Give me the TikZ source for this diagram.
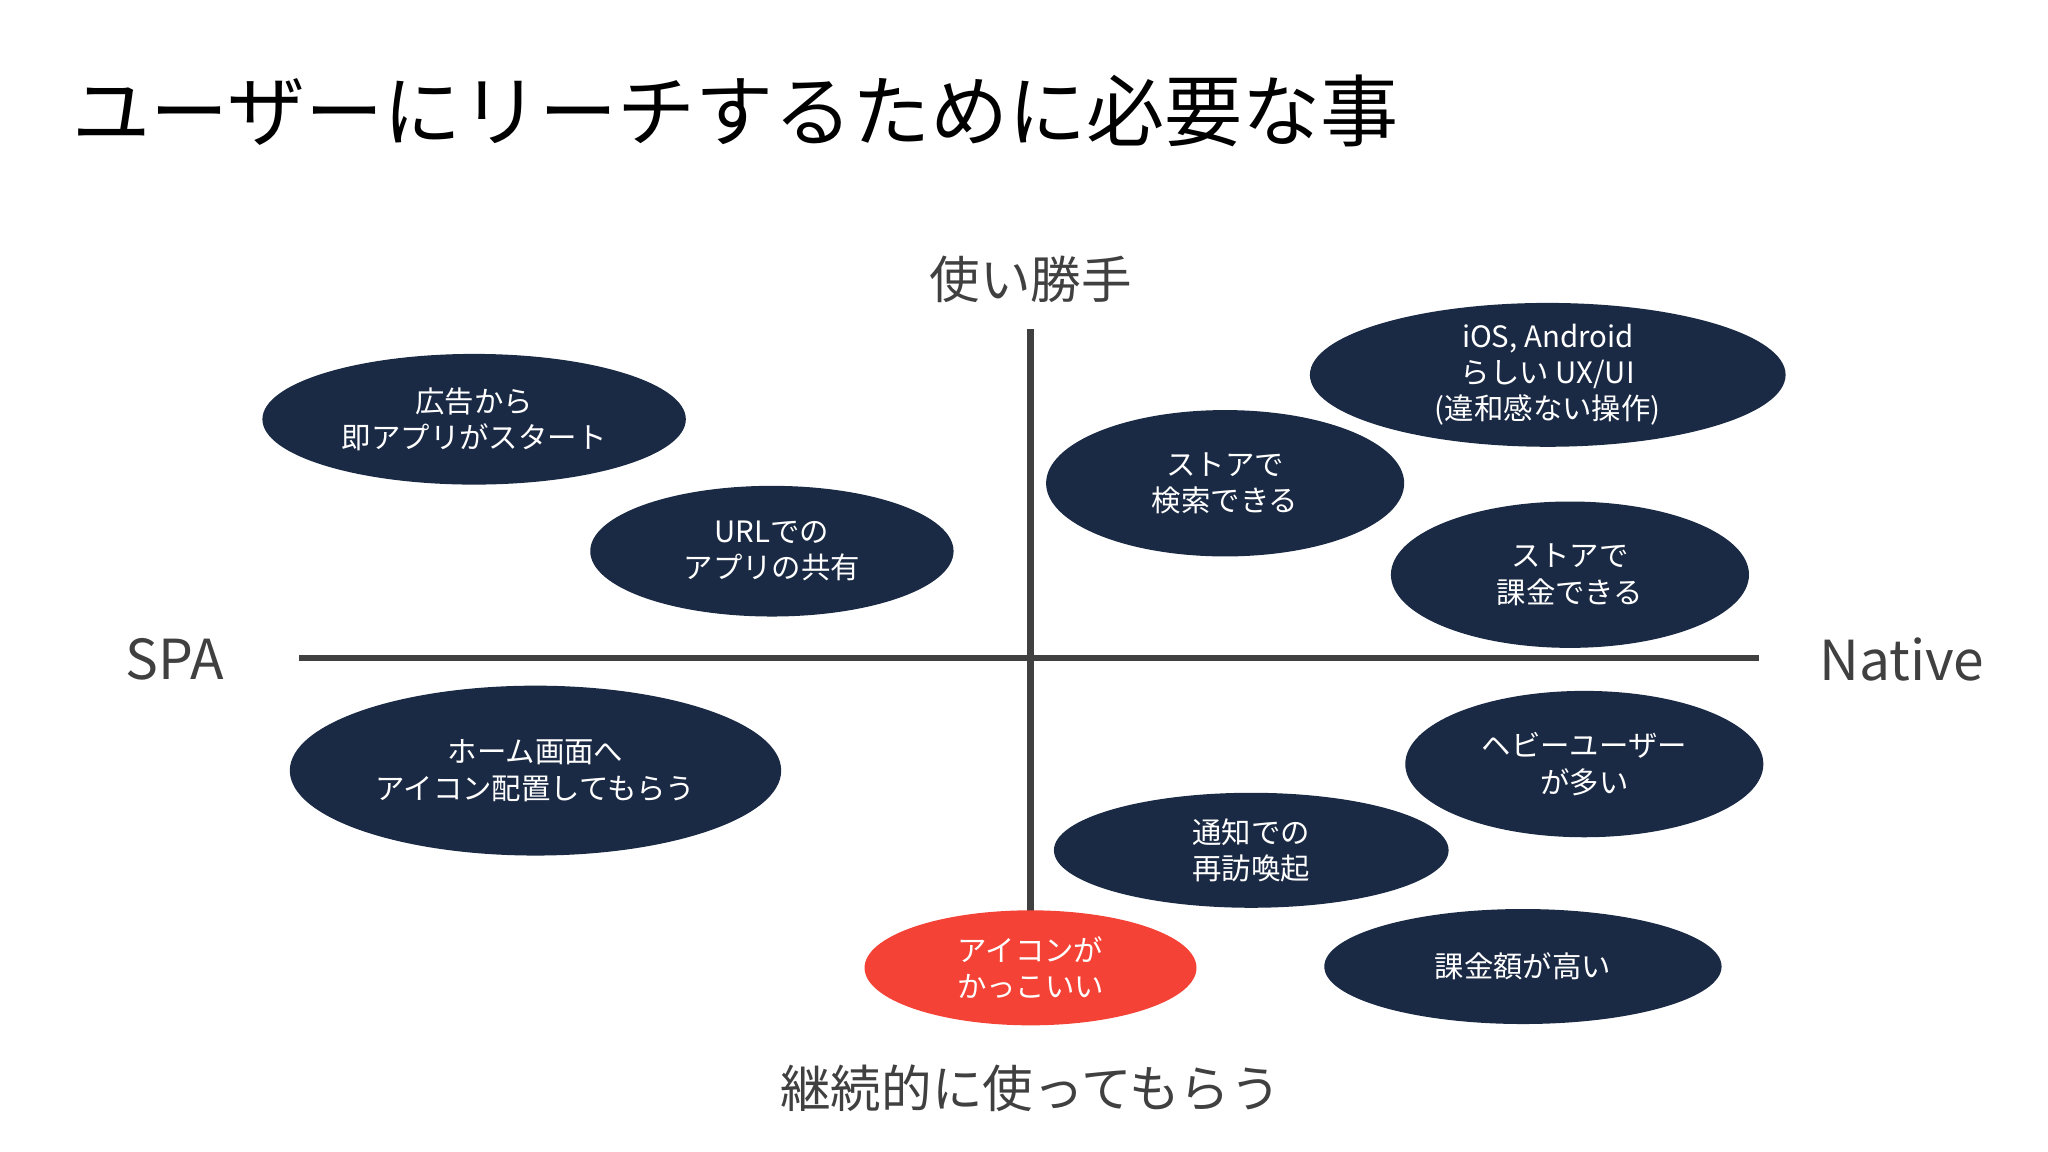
\documentclass[tikz,border=0pt]{standalone}
\usepackage{fontspec}
\setmainfont{Noto Sans CJK JP}
\usetikzlibrary{shapes.geometric}
\definecolor{navy}{HTML}{1B2A44}
\definecolor{redc}{HTML}{F44336}
\definecolor{axisgray}{HTML}{404040}
\begin{document}
\begin{tikzpicture}[x=0.01cm,y=-0.01cm,
  oval/.style={ellipse,fill=navy,text=white,align=center,inner sep=0pt,font=\fontsize{6.4}{7.9}\selectfont},
  axis/.style={draw=axisgray,line width=1.4pt},
  axlab/.style={text=axisgray,font=\fontsize{11}{14}\selectfont}]
\useasboundingbox (0,0) rectangle (1568,882);
\node[anchor=west,inner sep=0pt,font=\fontsize{17}{20}\selectfont] (title) at (55,85) {ユーザーにリーチするために必要な事};
\coordinate (l) at (229,504); \coordinate (r) at (1347,504);
\coordinate (t) at (789,252); \coordinate (b) at (789,700);
\draw[axis] (l) -- (r);
\draw[axis] (t) -- (b);
\node[axlab] (top) at (789,214) {使い勝手};
\node[axlab] (bot) at (789,833) {継続的に使ってもらう};
\node[axlab,font=\fontsize{12}{14}\selectfont] (spa) at (134,505) {SPA};
\node[axlab,font=\fontsize{12}{14}\selectfont] (nat) at (1456,505) {Native};
\node[oval,minimum width=3.24cm,minimum height=1.00cm] (e1) at (363,321) {広告から\\即アプリがスタート};
\node[oval,minimum width=2.78cm,minimum height=1.00cm] (e2) at (591,422) {URLでの\\アプリの共有};
\node[oval,minimum width=3.76cm,minimum height=1.30cm] (e3) at (410,590) {ホーム画面へ\\アイコン配置してもらう};
\node[oval,minimum width=3.64cm,minimum height=1.10cm] (e4) at (1185,287) {iOS, Android\\らしい UX/UI\\(違和感ない操作)};
\node[oval,minimum width=2.74cm,minimum height=1.12cm] (e5) at (938,370) {ストアで\\検索できる};
\node[oval,minimum width=2.74cm,minimum height=1.12cm] (e6) at (1202,440) {ストアで\\課金できる};
\node[oval,minimum width=2.74cm,minimum height=1.12cm] (e7) at (1213,585) {ヘビーユーザー\\が多い};
\node[oval,minimum width=3.02cm,minimum height=0.88cm] (e8) at (958,651) {通知での\\再訪喚起};
\node[oval,fill=redc,minimum width=2.54cm,minimum height=0.88cm] (e9) at (789,741) {アイコンが\\かっこいい};
\node[oval,minimum width=3.04cm,minimum height=0.88cm] (e10) at (1166,740) {課金額が高い};
\end{tikzpicture}
\end{document}
